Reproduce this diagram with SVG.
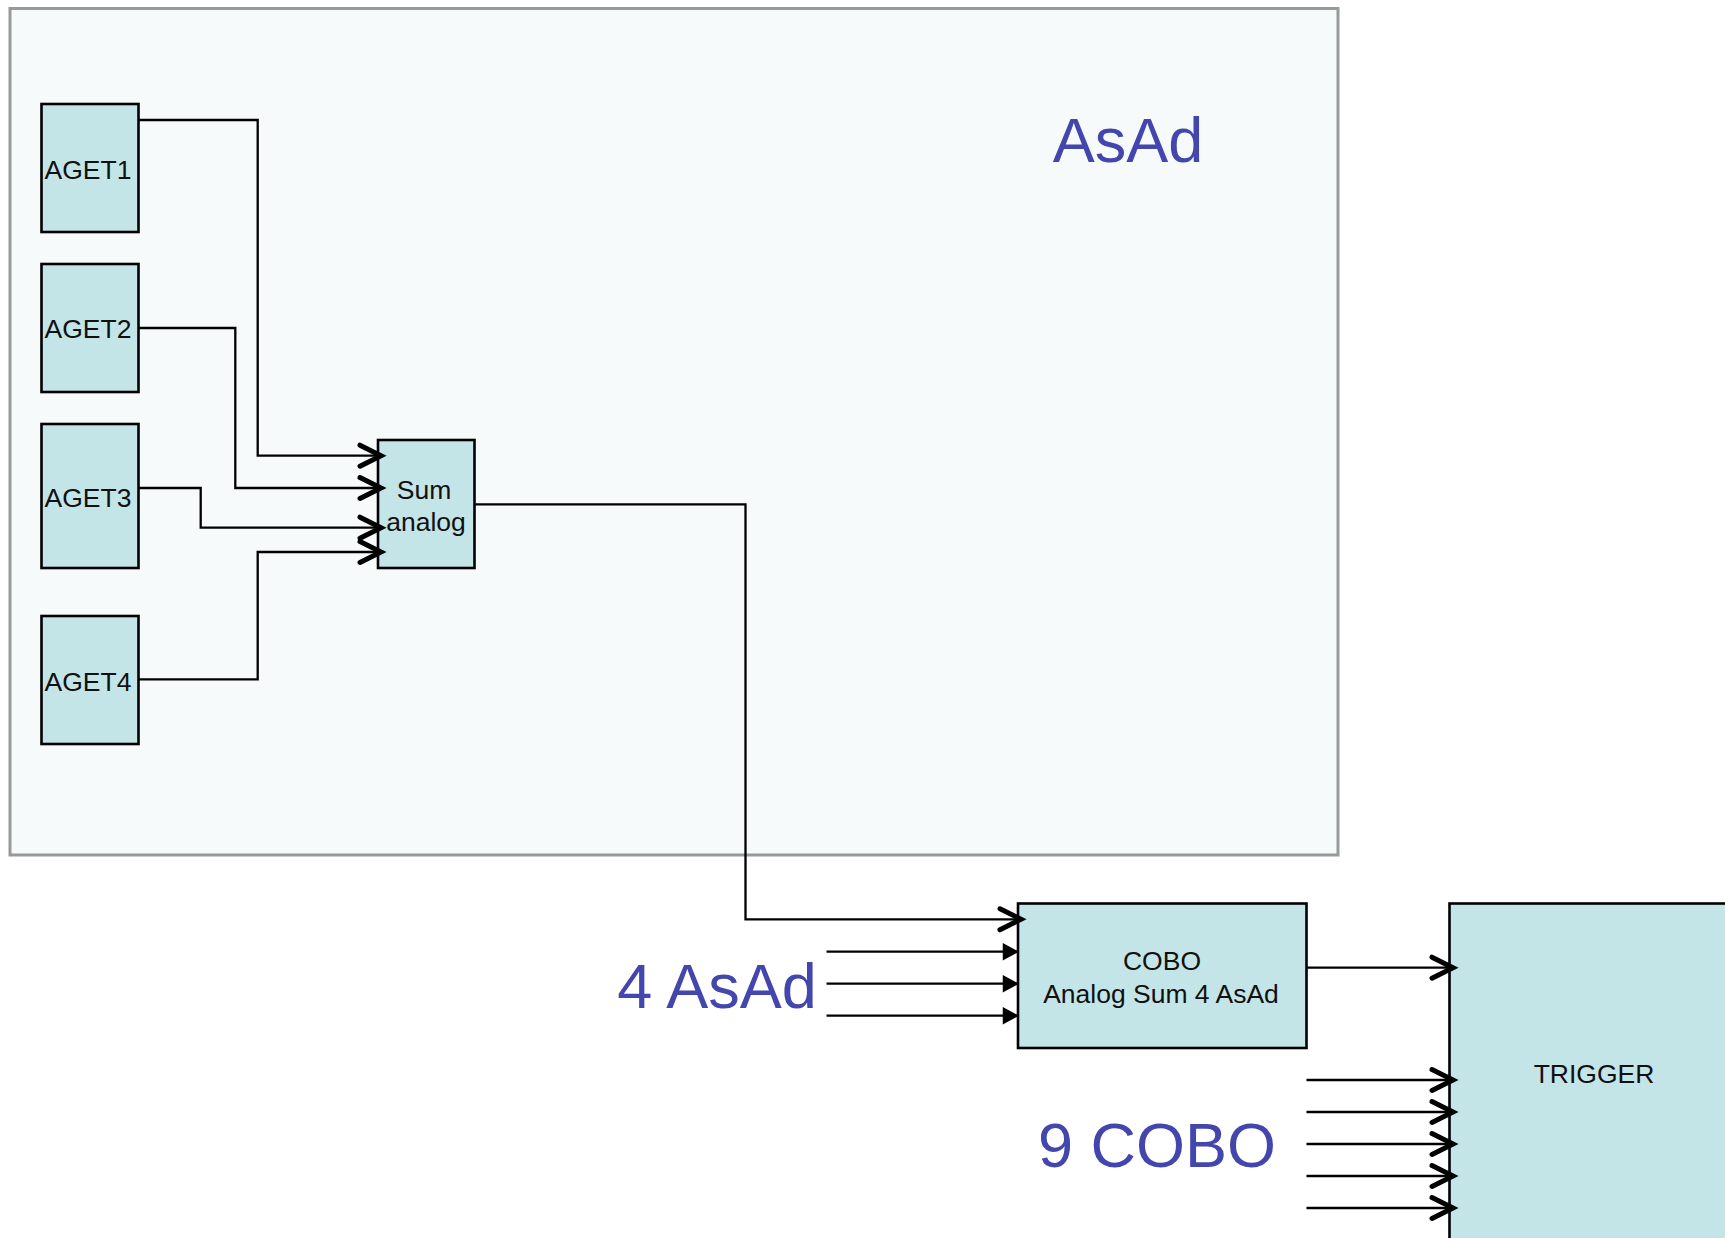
<svg xmlns="http://www.w3.org/2000/svg" width="1725" height="1238" viewBox="0 0 1725 1238">
<defs>
<style>
.node{fill:#c4e5e8;stroke:#000;stroke-width:2.6}
.lbl{font-family:"Liberation Sans",Arial,sans-serif;font-size:26.5px;fill:#111;text-anchor:middle}
.big{font-family:"Liberation Sans",Arial,sans-serif;fill:#4347ad}
.wire{fill:none;stroke:#000;stroke-width:2.3}
</style>
<marker id="open" markerUnits="userSpaceOnUse" markerWidth="32" markerHeight="32" viewBox="-26 -16 32 32" refX="0" refY="0" orient="auto">
<path d="M-21,-10.5 L0,0 L-21,10.5" fill="none" stroke="#000" stroke-width="5" stroke-linecap="round" stroke-linejoin="miter"/>
</marker>
<marker id="tri" markerUnits="userSpaceOnUse" markerWidth="20" markerHeight="20" viewBox="-14 -8 16 16" refX="0" refY="0" orient="auto">
<path d="M-13,-7 L0,0 L-13,7 Z" fill="#000"/>
</marker>
</defs>
<rect width="1725" height="1238" fill="#fff"/>
<g id="asad-board">
<rect x="10" y="8.5" width="1328" height="846.5" fill="#f6fafb" stroke="#999" stroke-width="3"/>
<text class="big" x="1128" y="161.7" font-size="63" text-anchor="middle">AsAd</text>
</g>
<g id="aget1"><rect class="node" x="41.5" y="104" width="97" height="128"/><text class="lbl" x="88" y="179">AGET1</text></g>
<g id="aget2"><rect class="node" x="41.5" y="264" width="97" height="128"/><text class="lbl" x="88" y="338">AGET2</text></g>
<g id="aget3"><rect class="node" x="41.5" y="424" width="97" height="144"/><text class="lbl" x="88" y="506.5">AGET3</text></g>
<g id="aget4"><rect class="node" x="41.5" y="616" width="97" height="128"/><text class="lbl" x="88" y="690.5">AGET4</text></g>
<g id="sum"><rect class="node" x="378" y="440" width="96.5" height="128"/><text class="lbl" x="424" y="498.5">Sum</text><text class="lbl" x="426" y="530.5">analog</text></g>
<g id="cobo"><rect class="node" x="1018" y="903.5" width="288.5" height="144.5"/><text class="lbl" x="1162" y="970">COBO</text><text class="lbl" x="1161" y="1002.5">Analog Sum 4 AsAd</text></g>
<g id="trigger"><rect class="node" x="1449.5" y="903.5" width="290" height="350"/><text class="lbl" x="1594" y="1083">TRIGGER</text></g>
<g id="labels">
<text class="big" x="717" y="1008.3" font-size="63" text-anchor="middle">4 AsAd</text>
<text class="big" x="1157" y="1167.3" font-size="63" text-anchor="middle">9 COBO</text>
</g>
<g id="connectors">
<path class="wire" d="M138.5,120 H257.7 V455.7 H381" marker-end="url(#open)"/>
<path class="wire" d="M138.5,328 H235.3 V488 H381" marker-end="url(#open)"/>
<path class="wire" d="M138.5,488 H200.7 V527.7 H381" marker-end="url(#open)"/>
<path class="wire" d="M138.5,679.3 H257.7 V552 H381" marker-end="url(#open)"/>
<path class="wire" d="M474.5,504.3 H745.5 V919.3 H1021" marker-end="url(#open)"/>
<path class="wire" d="M826.5,951.7 H1019" marker-end="url(#tri)"/>
<path class="wire" d="M826.5,983.7 H1019" marker-end="url(#tri)"/>
<path class="wire" d="M826.5,1015.7 H1019" marker-end="url(#tri)"/>
<path class="wire" d="M1306.5,967.7 H1453" marker-end="url(#open)"/>
<path class="wire" d="M1306.5,1080 H1453" marker-end="url(#open)"/>
<path class="wire" d="M1306.5,1112 H1453" marker-end="url(#open)"/>
<path class="wire" d="M1306.5,1144 H1453" marker-end="url(#open)"/>
<path class="wire" d="M1306.5,1176 H1453" marker-end="url(#open)"/>
<path class="wire" d="M1306.5,1208 H1453" marker-end="url(#open)"/>
</g>
</svg>
